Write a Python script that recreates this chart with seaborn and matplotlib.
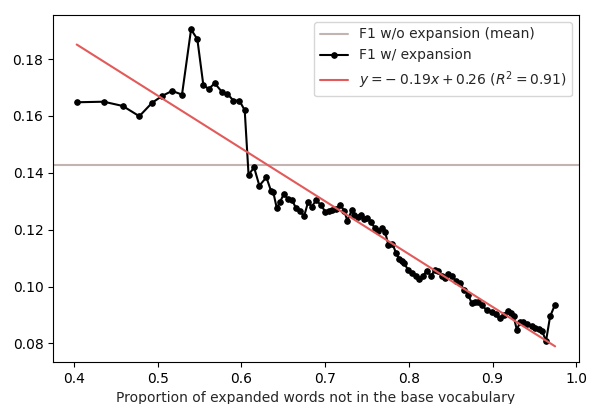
import numpy as np
import pandas as pd
import matplotlib
matplotlib.use("Agg")
import matplotlib.pyplot as plt
import seaborn as sns

# Proportion of expanded words not in the base vocabulary
proportion = [
    0.4032, 0.4355, 0.4582, 0.4780, 0.4932, 0.5051, 0.5171, 0.5290, 0.5398, 0.5473,
    0.5545, 0.5609, 0.5681, 0.5768, 0.5832, 0.5903, 0.5975, 0.6039, 0.6085, 0.6151,
    0.6214, 0.6298, 0.6354, 0.6381, 0.6422, 0.6458, 0.6509, 0.6553, 0.6608, 0.6652,
    0.6700, 0.6748, 0.6796, 0.6840, 0.6891, 0.6951, 0.6999, 0.7047, 0.7086, 0.7134,
    0.7182, 0.7226, 0.7265, 0.7318, 0.7349, 0.7397, 0.7429, 0.7461, 0.7504, 0.7548,
    0.7596, 0.7636, 0.7676, 0.7716, 0.7755, 0.7803, 0.7847, 0.7883, 0.7915, 0.7946,
    0.7987, 0.8035, 0.8082, 0.8125, 0.8173, 0.8214, 0.8265, 0.8313, 0.8352, 0.8393,
    0.8433, 0.8472, 0.8513, 0.8564, 0.8612, 0.8659, 0.8707, 0.8751, 0.8791, 0.8830,
    0.8875, 0.8931, 0.8990, 0.9036, 0.9084, 0.9131, 0.9182, 0.9221, 0.9251, 0.9289,
    0.9329, 0.9368, 0.9412, 0.9468, 0.9508, 0.9550, 0.9591, 0.9639, 0.9687, 0.9747,
]
# F1 with expansion
f1_expansion = [
    0.1648, 0.1650, 0.1635, 0.1599, 0.1646, 0.1670, 0.1688, 0.1675, 0.1904, 0.1870,
    0.1708, 0.1695, 0.1715, 0.1684, 0.1678, 0.1654, 0.1654, 0.1620, 0.1393, 0.1419,
    0.1355, 0.1384, 0.1336, 0.1331, 0.1276, 0.1296, 0.1327, 0.1308, 0.1303, 0.1275,
    0.1267, 0.1247, 0.1297, 0.1281, 0.1303, 0.1287, 0.1264, 0.1267, 0.1268, 0.1273,
    0.1288, 0.1267, 0.1232, 0.1268, 0.1250, 0.1243, 0.1251, 0.1238, 0.1241, 0.1226,
    0.1205, 0.1196, 0.1206, 0.1192, 0.1147, 0.1151, 0.1118, 0.1098, 0.1089, 0.1082,
    0.1060, 0.1048, 0.1036, 0.1025, 0.1039, 0.1056, 0.1037, 0.1060, 0.1056, 0.1036,
    0.1030, 0.1044, 0.1036, 0.1021, 0.1011, 0.0989, 0.0972, 0.0942, 0.0946, 0.0946,
    0.0935, 0.0916, 0.0911, 0.0902, 0.0888, 0.0900, 0.0913, 0.0908, 0.0896, 0.0849,
    0.0874, 0.0877, 0.0868, 0.0863, 0.0856, 0.0851, 0.0844, 0.0809, 0.0895, 0.0937,
]
# F1 without expansion (mean)
f1_base_mean = 0.1428

df = pd.DataFrame({"proportion": proportion, "f1": f1_expansion})

# linear fit
slope, intercept = np.polyfit(df["proportion"], df["f1"], 1)
pred = slope * df["proportion"] + intercept
ss_res = np.sum((df["f1"] - pred) ** 2)
ss_tot = np.sum((df["f1"] - df["f1"].mean()) ** 2)
r2 = 1 - ss_res / ss_tot
fit_df = pd.DataFrame({"proportion": [df["proportion"].min(), df["proportion"].max()]})
fit_df["f1"] = slope * fit_df["proportion"] + intercept

sns.set_theme(style="ticks")
plt.rcParams.update({
    "font.family": ["DejaVu Sans"],
    "font.size": 10,
    "xtick.labelsize": 10,
    "ytick.labelsize": 10,
    "axes.labelsize": 10,
    "legend.fontsize": 10,
    "axes.edgecolor": "black",
    "axes.linewidth": 0.8,
    "xtick.color": "black",
    "ytick.color": "black",
    "xtick.major.size": 3.5,
    "ytick.major.size": 3.5,
    "xtick.major.width": 0.8,
    "ytick.major.width": 0.8,
    "xtick.major.pad": 3.5,
    "ytick.major.pad": 3.5,
    "axes.labelpad": 4.0,
    "mathtext.fontset": "dejavusans",
})

fig, ax = plt.subplots(figsize=(5.9, 4.04), dpi=100)

ax.axhline(f1_base_mean, color="#c2b5b1", lw=1.5, label="F1 w/o expansion (mean)")
sns.lineplot(data=df, x="proportion", y="f1", ax=ax, color="black", marker="o",
             markersize=4, markeredgecolor="black", linewidth=1.5,
             label="F1 w/ expansion", errorbar=None)
sign = "-" if slope < 0 else "+"
label_fit = rf"$y={sign}\:{abs(slope):.2f}x+{intercept:.2f}$ $(R^2={r2:.2f})$"
sns.lineplot(data=fit_df, x="proportion", y="f1", ax=ax, color="#e35a5a",
             linewidth=1.5, label=label_fit, errorbar=None)

ax.set_xlabel("Proportion of expanded words not in the base vocabulary")
ax.set_ylabel("")
ax.set_xticks([0.4, 0.5, 0.6, 0.7, 0.8, 0.9, 1.0])
ax.set_yticks([0.08, 0.10, 0.12, 0.14, 0.16, 0.18])
ax.set_xlim(0.375, 1.003)
ax.set_ylim(0.0735, 0.1955)
ax.legend(loc="upper right", frameon=True)

fig.subplots_adjust(left=0.09, right=0.981, top=0.963, bottom=0.104)
fig.savefig("out.png", dpi=100)
